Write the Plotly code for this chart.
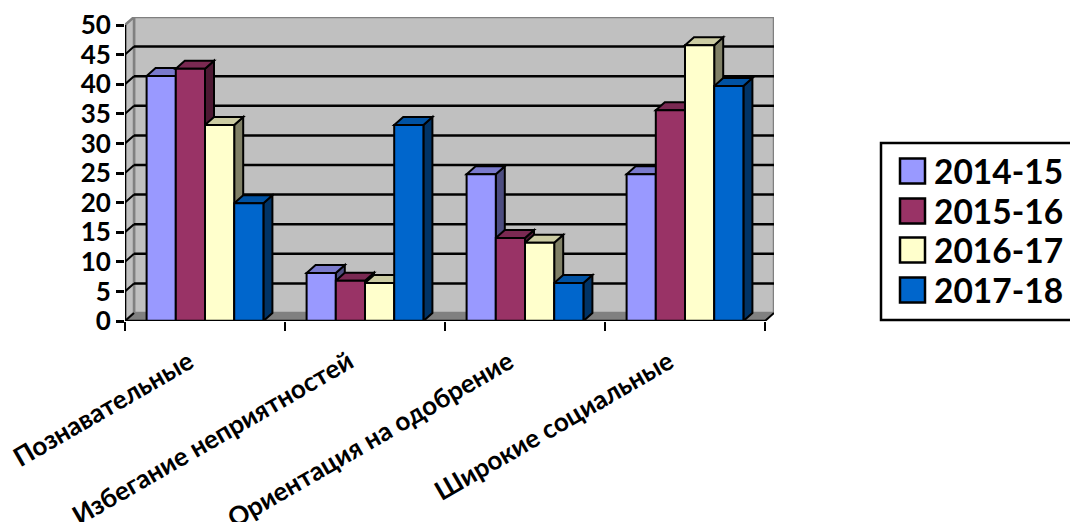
import plotly.graph_objects as go

categories = ["Познавательные", "Избегание неприятностей", "Ориентация на одобрение", "Широкие социальные"]
series_names = ["2014-15", "2015-16", "2016-17", "2017-18"]
v2014 = [41.4, 8.1, 24.8, 24.8]
v2015 = [42.6, 6.8, 14.0, 35.6]
v2016 = [33.1, 6.4, 13.2, 46.6]
v2017 = [19.9, 33.1, 6.4, 39.7]
values = [v2014, v2015, v2016, v2017]
y_ticks = [0, 5, 10, 15, 20, 25, 30, 35, 40, 45, 50]

front = ["#9999FF", "#993366", "#FFFFCC", "#0066CC"]
top_c = ["#7A7ACC", "#7A2952", "#CCCCA3", "#0052A3"]
side_c = ["#4D4D80", "#4D1933", "#808066", "#003366"]

W, H = 1070, 522
L, R, T, B = 125, 774, 17, 321
y_unit = 5.92
cat_px = 160
DX = (R - L - 4 * cat_px) / cat_px   # depth in x units
DY = 8 / y_unit                      # depth in y units
x0, x1 = -0.5, 3.5
ymax = 50
bargap = 0.27
bw = (1 - bargap) / 4
INK = "#000000"
FONT = "Lato"


def poly(pts, fill, lw=2, color=INK):
    path = "M" + " L".join(f"{a},{b}" for a, b in pts) + " Z"
    return dict(type="path", path=path, xref="x", yref="y", fillcolor=fill,
                line=dict(color=color, width=lw), layer="below")


def seg(a, b, c, d, color=INK, lw=2):
    return dict(type="line", x0=a, y0=b, x1=c, y1=d, xref="x", yref="y",
                line=dict(color=color, width=lw), layer="below")


shapes = []
# walls and floor
shapes.append(poly([(x0 + DX, DY), (x1 + DX, DY), (x1 + DX, ymax + DY), (x0 + DX, ymax + DY)], "#C0C0C0", 2.5, "#808080"))
shapes.append(poly([(x0, 0), (x0 + DX, DY), (x0 + DX, ymax + DY), (x0, ymax)], "#C0C0C0", 2.5, "#808080"))
shapes.append(poly([(x0, 0), (x1, 0), (x1 + DX, DY), (x0 + DX, DY)], "#808080", 1, "#808080"))
# gridlines on the back wall, ticks across the side wall
for v in y_ticks[1:-1]:
    shapes.append(seg(x0 + DX, v + DY, x1 + DX, v + DY, lw=2.5))
for v in y_ticks[:-1]:
    shapes.append(seg(x0, v, x0 + DX, v + DY, lw=2))
shapes.append(seg(x1, 0, x1 + DX, DY, lw=2))
# depth faces of the bars
for i in range(len(categories)):
    for j, vals in enumerate(values):
        a = i - 0.5 + bargap / 2 + j * bw
        b = a + bw
        v = vals[i]
        shapes.append(poly([(b, 0), (b + DX, DY), (b + DX, v + DY), (b, v)], side_c[j]))
        shapes.append(poly([(a, v), (b, v), (b + DX, v + DY), (a + DX, v + DY)], top_c[j]))
# axis lines
shapes.append(dict(type="line", x0=x0, x1=x0, y0=0, y1=ymax, xref="x", yref="y",
                   line=dict(color=INK, width=2.5), layer="above"))
shapes.append(dict(type="line", x0=x0, x1=x1, y0=0, y1=0, xref="x", yref="y",
                   line=dict(color=INK, width=2.5), layer="above"))

# legend box
lg_x0, lg_y0, lg_y1 = 881, 143, 320
shapes.append(dict(type="rect", xref="paper", yref="paper", x0=(lg_x0 - L) / (R - L), x1=(W + 30 - L) / (R - L),
                   y0=(B - lg_y1) / (B - T), y1=(B - lg_y0) / (B - T), fillcolor="#FFFFFF",
                   line=dict(color=INK, width=2.5), layer="above"))
annotations = []
sw_centers = [171, 211, 250, 290]
for name, col, cy in zip(series_names, front, sw_centers):
    shapes.append(dict(type="rect", xref="paper", yref="paper", x0=(900 - L) / (R - L), x1=(925 - L) / (R - L),
                       y0=(B - cy - 12.5) / (B - T), y1=(B - cy + 12.5) / (B - T), fillcolor=col,
                       line=dict(color=INK, width=2.5), layer="above"))
    annotations.append(dict(text=f"<b>{name}</b>", xref="paper", yref="paper", x=(933 - L) / (R - L),
                            y=(B - cy) / (B - T), xanchor="left", yanchor="middle", showarrow=False,
                            font=dict(family=FONT, size=33.5, color=INK), borderpad=0))

fig = go.Figure()
for j, name in enumerate(series_names):
    fig.add_trace(go.Bar(x=list(range(len(categories))), y=values[j], name=name,
                         marker=dict(color=front[j], line=dict(color=INK, width=2))))

fig.update_layout(
    width=W, height=H,
    margin=dict(l=L, r=W - R, t=T, b=H - B, autoexpand=False),
    paper_bgcolor="white", plot_bgcolor="white", showlegend=False,
    barmode="group", bargap=bargap, bargroupgap=0,
    shapes=shapes, annotations=annotations,
    font=dict(family=FONT, color=INK),
    xaxis=dict(range=[x0, x1 + DX], tickmode="array",
               tickvals=[i - 0.1 for i in range(len(categories))],
               ticktext=[f"<b>{c}</b>" for c in categories],
               tickangle=-30, ticks="", showgrid=False, zeroline=False, showline=False,
               tickfont=dict(family=FONT, size=26, color=INK), automargin=False, ticklabelstandoff=20,
               minor=dict(tickmode="array", tickvals=[i - 0.5 for i in range(len(categories) + 1)],
                          ticks="outside", ticklen=9, tickwidth=2, tickcolor=INK, showgrid=False)),
    yaxis=dict(range=[0, ymax + DY], tickmode="array", tickvals=y_ticks,
               ticktext=[f"<b>{t}</b>" for t in y_ticks],
               ticks="outside", ticklen=8, tickwidth=2.5, tickcolor=INK,
               showgrid=False, zeroline=False, showline=False,
               tickfont=dict(family=FONT, size=26, color=INK), automargin=False),
)
fig.write_html("out.html", config={"displayModeBar": False},
               post_script="document.body.style.margin='0';")
